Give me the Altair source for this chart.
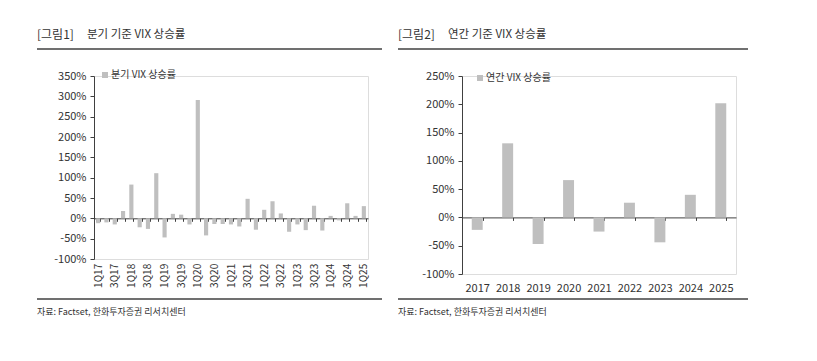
import altair as alt
import pandas as pd

# ---------------- data ----------------
quarters = ["1Q17", "2Q17", "3Q17", "4Q17", "1Q18", "2Q18", "3Q18", "4Q18",
            "1Q19", "2Q19", "3Q19", "4Q19", "1Q20", "2Q20", "3Q20", "4Q20",
            "1Q21", "2Q21", "3Q21", "4Q21", "1Q22", "2Q22", "3Q22", "4Q22",
            "1Q23", "2Q23", "3Q23", "4Q23", "1Q24", "2Q24", "3Q24", "4Q24",
            "1Q25"]
quarter_values = [-12, -10, -15, 18, 83, -22, -26, 111,
                  -47, 11, 9, -15, 291, -42, -14, -14,
                  -15, -20, 48, -28, 21, 42, 12, -33,
                  -15, -29, 31, -30, 6, -5, 37, 6,
                  30]
years = ["2017", "2018", "2019", "2020", "2021", "2022", "2023", "2024", "2025"]
year_values = [-22, 131, -47, 66, -25, 26, -44, 40, 202]

q_series = "분기 VIX 상승률"
y_series = "연간 VIX 상승률"
fig1_no, fig1_title = "[그림1]", "분기 기준 VIX 상승률"
fig2_no, fig2_title = "[그림2]", "연간 기준 VIX 상승률"
source = "자료: Factset, 한화투자증권 리서치센터"

q_ticks = list(range(-100, 351, 50))
y_ticks = list(range(-100, 251, 50))

FONT = "Noto Sans CJK KR"
BAR = "#bfbfbf"
AXIS = "#404040"
TXT = "#333333"

dq = pd.DataFrame({"cat": quarters, "val": quarter_values, "s": q_series})
dy = pd.DataFrame({"cat": years, "val": year_values, "s": y_series})
one = pd.DataFrame({"k": [0]})


def deco(no, title, x0, x1, bottom_y, foot_y, title_x):
    base = alt.Chart(one)
    t1 = base.mark_text(align="left", baseline="middle", font=FONT, fontSize=12, color=TXT).encode(
        x=alt.value(x0), y=alt.value(-41), text=alt.value(no))
    t2 = base.mark_text(align="left", baseline="middle", font=FONT, fontSize=11.5, color=TXT).encode(
        x=alt.value(title_x), y=alt.value(-41), text=alt.value(title))
    r1 = base.mark_rule(color="#404040", strokeWidth=1.5).encode(
        x=alt.value(x0), x2=alt.value(x1), y=alt.value(-27))
    r2 = base.mark_rule(color="#404040", strokeWidth=1.5).encode(
        x=alt.value(x0), x2=alt.value(x1), y=alt.value(bottom_y))
    f = base.mark_text(align="left", baseline="middle", font=FONT, fontSize=9, color=TXT).encode(
        x=alt.value(x0), y=alt.value(foot_y), text=alt.value(source))
    return [t1, t2, r1, r2, f]


def bars(df, cats, ticks, W, H, pin, zero_off, lab_pad, angle, lab_size, lab_expr, leg_x, leg_y):
    ymin, ymax = ticks[0], ticks[-1]
    return alt.Chart(df).mark_bar().encode(
        x=alt.X("cat:N", sort=cats, title=None,
                scale=alt.Scale(paddingInner=pin, paddingOuter=pin / 2),
                axis=alt.Axis(tickBand="extent", offset=zero_off, labelAngle=angle,
                              labelPadding=lab_pad, labelExpr=lab_expr, tickSize=3,
                              domainColor=AXIS, tickColor=AXIS, labelColor=TXT,
                              labelFontSize=lab_size, labelFont=FONT, grid=False)),
        y=alt.Y("val:Q", title=None,
                scale=alt.Scale(domain=[ymin, ymax], nice=False, zero=False),
                axis=alt.Axis(values=ticks, labelExpr="datum.value + '%'", grid=False,
                              tickSize=4, labelPadding=4, domainColor=AXIS, tickColor=AXIS,
                              labelColor=TXT, labelFontSize=11, labelFont=FONT)),
        color=alt.Color("s:N", scale=alt.Scale(range=[BAR]),
                        legend=alt.Legend(title=None, orient="none", legendX=leg_x, legendY=leg_y,
                                          symbolType="square", symbolSize=36, symbolStrokeWidth=0,
                                          labelFontSize=10, labelFont=FONT, labelColor=TXT,
                                          labelOffset=1, padding=0)),
    ).properties(width=W, height=H)


W1, H1 = 274, 183
left = alt.layer(
    bars(dq, quarters, q_ticks, W1, H1, 0.5, -40.7, 42,
         -90, 10,
         "(substring(datum.value,0,1)=='1' || substring(datum.value,0,1)=='3') ? datum.value : ''",
         6, -6),
    *deco(fig1_no, fig1_title, -57, 288, 223, 236, -7),
)

W2, H2 = 274, 198
right = alt.layer(
    bars(dy, years, y_ticks, W2, H2, 0.64, -56.6, 62, 0, 11, "datum.value", 13, -3),
    *deco(fig2_no, fig2_title, -64, 286, 223, 236, -14),
)

chart = alt.hconcat(left, right, spacing=12).resolve_scale(color="independent").properties(
    padding={"left": 27, "top": 20, "right": 5, "bottom": 5}
).configure_view(stroke=None).configure(font=FONT)

chart.save("out.html", embed_options={"renderer": "svg", "actions": False})
